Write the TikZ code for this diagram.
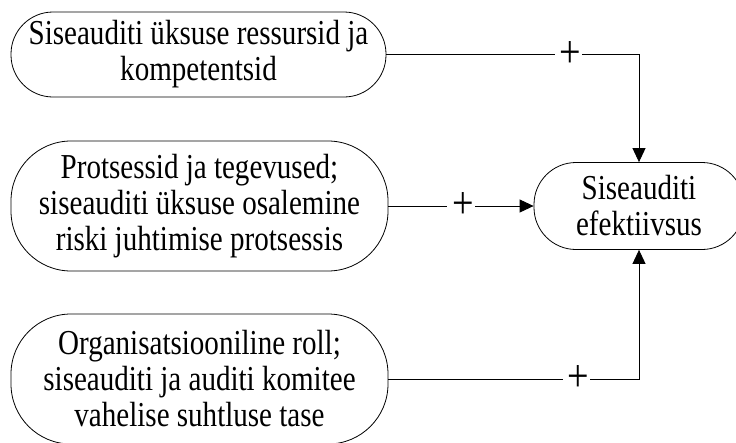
\documentclass[tikz,border=0pt]{standalone}
\usepackage{fontspec}
\setmainfont{Liberation Serif}[FakeStretch=0.83]
\usetikzlibrary{arrows.meta,positioning}

\begin{document}
\begin{tikzpicture}[
    x=1pt, y=-1pt,
    block/.style={rectangle, draw, line width=0.8pt, align=center, inner sep=0pt, font=\fontsize{35}{36}\selectfont},
    arrow/.style={-{Triangle[length=14pt,width=13pt]}, line width=0.9pt},
    plus/.style={fill=white, inner sep=1pt, font=\fontsize{46}{46}\selectfont}
]
\useasboundingbox (0,0) rectangle (736,442);

% Factors
\node[block, minimum width=375pt, minimum height=85pt, rounded corners=42pt] (res) at (198.5,54.5) {Siseauditi üksuse ressursid ja\\kompetentsid};
\node[block, minimum width=377pt, minimum height=130pt, rounded corners=60pt] (proc) at (199.5,206) {Protsessid ja tegevused;\\siseauditi üksuse osalemine\\riski juhtimise protsessis};
\node[block, minimum width=377pt, minimum height=130pt, rounded corners=60pt] (org) at (199.5,379) {Organisatsiooniline roll;\\siseauditi ja auditi komitee\\vahelise suhtluse tase};

% Outcome
\node[block, minimum width=210pt, minimum height=87pt, rounded corners=42pt] (eff) at (639,206) {Siseauditi\\efektiivsus};

% Arrows
\draw[arrow] (res.east) -| node[plus, pos=0.36] {\hspace{4pt}+} (eff.north);
\draw[arrow] (proc.east) -- node[plus] {\hspace{4pt}+} (eff.west);
\draw[arrow] (org.east) -| node[plus, pos=0.375] {\hspace{4pt}+} (eff.south);

\end{tikzpicture}
\end{document}
